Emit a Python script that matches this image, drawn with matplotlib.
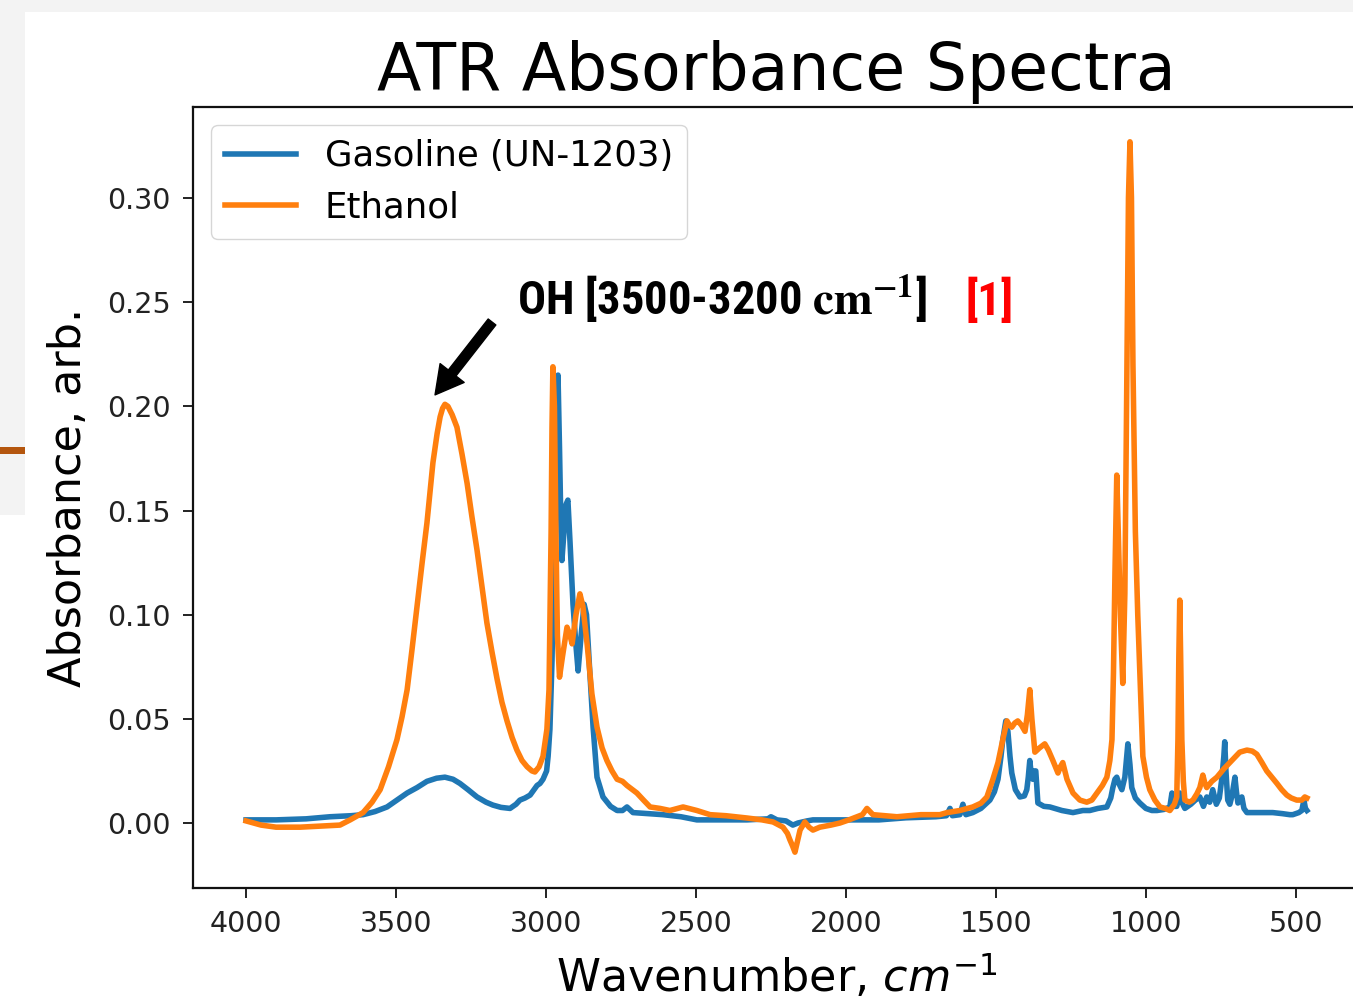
import matplotlib
matplotlib.use("Agg")
import matplotlib.patches as mpatches
import matplotlib.pyplot as plt

# ATR absorbance readings, wavenumber in cm^-1, absorbance in arb. units
ETHANOL_WN = [
    4000, 3950, 3900, 3820, 3750, 3687, 3653, 3610, 3580, 3553, 3525, 3497,
    3480, 3463, 3447, 3430, 3413, 3397, 3377, 3363, 3353, 3345, 3337, 3327,
    3313, 3297, 3280, 3263, 3247, 3230, 3213, 3197, 3180, 3163, 3147, 3130,
    3113, 3097, 3080, 3063, 3047, 3037, 3023, 3010, 2997, 2990, 2983, 2980,
    2977, 2972, 2967, 2962, 2955, 2945, 2930, 2920, 2913, 2900, 2887, 2877,
    2863, 2847, 2830, 2813, 2797, 2780, 2763, 2745, 2730, 2697, 2675, 2653,
    2620, 2587, 2543, 2497, 2453, 2400, 2330, 2280, 2243, 2210, 2195, 2187,
    2178, 2170, 2162, 2153, 2137, 2123, 2110, 2087, 2050, 2020, 1990, 1963,
    1945, 1930, 1910, 1870, 1830, 1750, 1687, 1663, 1620, 1577, 1550, 1530,
    1510, 1493, 1477, 1463, 1455, 1447, 1437, 1427, 1415, 1403, 1395, 1387,
    1380, 1370, 1355, 1337, 1325, 1310, 1293, 1285, 1277, 1270, 1263, 1243,
    1220, 1197, 1180, 1163, 1145, 1130, 1120, 1113, 1108, 1103, 1097, 1092,
    1085, 1077, 1070, 1063, 1058, 1053, 1048, 1043, 1035, 1027, 1020, 1010,
    998, 987, 970, 953, 935, 920, 905, 897, 893, 890, 887, 884,
    880, 875, 870, 855, 843, 830, 820, 810, 803, 797, 780, 763,
    740, 720, 700, 687, 663, 645, 630, 613, 597, 580, 563, 547,
    530, 515, 497, 480, 470, 463,
]
ETHANOL_ABS = [
    0.001, -0.001, -0.002, -0.002, -0.0015, -0.001, 0.0015, 0.005, 0.010, 0.016, 0.027, 0.040,
    0.051, 0.064, 0.083, 0.104, 0.125, 0.144, 0.173, 0.187, 0.195, 0.199, 0.201, 0.200,
    0.196, 0.190, 0.177, 0.163, 0.147, 0.131, 0.113, 0.096, 0.082, 0.069, 0.058, 0.049,
    0.041, 0.035, 0.030, 0.027, 0.025, 0.0245, 0.027, 0.032, 0.045, 0.064, 0.140, 0.190,
    0.219, 0.200, 0.140, 0.090, 0.070, 0.080, 0.094, 0.090, 0.086, 0.100, 0.110, 0.104,
    0.086, 0.062, 0.046, 0.036, 0.030, 0.025, 0.021, 0.020, 0.018, 0.0144, 0.011, 0.0077,
    0.007, 0.006, 0.0077, 0.006, 0.004, 0.0035, 0.0024, 0.0015, 0.0005, -0.002, -0.005, -0.008,
    -0.011, -0.014, -0.009, -0.0034, 0.0005, -0.002, -0.0034, -0.002, -0.001, 0.000, 0.0015, 0.003,
    0.004, 0.007, 0.004, 0.0035, 0.003, 0.004, 0.004, 0.005, 0.006, 0.0077, 0.0095, 0.0125,
    0.021, 0.029, 0.040, 0.049, 0.047, 0.046, 0.048, 0.049, 0.047, 0.044, 0.052, 0.064,
    0.050, 0.034, 0.036, 0.038, 0.035, 0.030, 0.024, 0.027, 0.029, 0.025, 0.021, 0.0144,
    0.011, 0.010, 0.011, 0.0144, 0.018, 0.022, 0.030, 0.040, 0.072, 0.120, 0.167, 0.140,
    0.100, 0.067, 0.110, 0.220, 0.300, 0.327, 0.300, 0.220, 0.140, 0.100, 0.072, 0.032,
    0.022, 0.016, 0.011, 0.0077, 0.007, 0.006, 0.009, 0.0125, 0.040, 0.080, 0.107, 0.080,
    0.040, 0.020, 0.011, 0.010, 0.011, 0.014, 0.017, 0.023, 0.019, 0.017, 0.020, 0.022,
    0.026, 0.029, 0.032, 0.034, 0.035, 0.0345, 0.033, 0.029, 0.025, 0.022, 0.019, 0.016,
    0.0134, 0.012, 0.011, 0.011, 0.0125, 0.012,
]

GASOLINE_WN = [
    4000, 3900, 3800, 3720, 3650, 3610, 3570, 3530, 3497, 3463, 3430, 3397,
    3365, 3337, 3310, 3287, 3260, 3230, 3200, 3177, 3150, 3120, 3100, 3087,
    3070, 3053, 3040, 3030, 3020, 3010, 2998, 2993, 2987, 2980, 2975, 2970,
    2965, 2960, 2955, 2950, 2947, 2940, 2933, 2927, 2920, 2910, 2900, 2893,
    2883, 2873, 2865, 2855, 2843, 2830, 2810, 2785, 2763, 2745, 2730, 2710,
    2660, 2610, 2550, 2497, 2420, 2330, 2260, 2250, 2230, 2200, 2177, 2160,
    2130, 2110, 2000, 1890, 1800, 1700, 1665, 1653, 1645, 1620, 1610, 1600,
    1577, 1550, 1520, 1505, 1493, 1483, 1477, 1467, 1460, 1453, 1447, 1435,
    1420, 1405, 1397, 1392, 1387, 1381, 1377, 1372, 1367, 1360, 1340, 1320,
    1280, 1243, 1210, 1187, 1160, 1130, 1117, 1110, 1103, 1097, 1090, 1080,
    1070, 1060, 1053, 1047, 1035, 1020, 1000, 980, 963, 940, 920, 913,
    907, 897, 887, 880, 870, 850, 835, 820, 808, 797, 787, 777,
    765, 755, 747, 740, 737, 733, 727, 720, 713, 703, 698, 693,
    686, 680, 673, 663, 630, 600, 577, 545, 520, 510, 490, 480,
    473, 468, 463,
]
GASOLINE_ABS = [
    0.0015, 0.0015, 0.002, 0.003, 0.0035, 0.004, 0.0055, 0.0077, 0.011, 0.0144, 0.017, 0.020,
    0.0215, 0.022, 0.021, 0.019, 0.016, 0.0125, 0.010, 0.0086, 0.0075, 0.007, 0.009, 0.011,
    0.012, 0.0134, 0.016, 0.018, 0.019, 0.021, 0.025, 0.032, 0.045, 0.078, 0.120, 0.174,
    0.205, 0.215, 0.180, 0.140, 0.126, 0.140, 0.153, 0.155, 0.135, 0.105, 0.085, 0.073,
    0.090, 0.105, 0.100, 0.075, 0.046, 0.022, 0.0125, 0.008, 0.006, 0.006, 0.0077, 0.005,
    0.0045, 0.004, 0.003, 0.0015, 0.0015, 0.0015, 0.002, 0.003, 0.0015, 0.001, -0.001, 0.000,
    0.001, 0.0015, 0.0015, 0.0015, 0.0025, 0.003, 0.0035, 0.007, 0.0035, 0.004, 0.009, 0.004,
    0.005, 0.007, 0.011, 0.015, 0.021, 0.032, 0.040, 0.049, 0.044, 0.032, 0.024, 0.016,
    0.0125, 0.013, 0.016, 0.022, 0.030, 0.022, 0.021, 0.025, 0.025, 0.0096, 0.008, 0.0077,
    0.006, 0.005, 0.006, 0.006, 0.007, 0.0077, 0.012, 0.017, 0.021, 0.022, 0.019, 0.016,
    0.022, 0.038, 0.028, 0.017, 0.012, 0.0096, 0.007, 0.006, 0.006, 0.0065, 0.0077, 0.0144,
    0.008, 0.008, 0.0144, 0.010, 0.007, 0.009, 0.011, 0.0125, 0.008, 0.0125, 0.010, 0.016,
    0.009, 0.012, 0.021, 0.032, 0.039, 0.025, 0.011, 0.009, 0.013, 0.022, 0.015, 0.0096,
    0.011, 0.0125, 0.007, 0.005, 0.005, 0.005, 0.005, 0.0045, 0.004, 0.004, 0.005, 0.006,
    0.011, 0.007, 0.006,
]

W, H = 1353, 1007

fig = plt.figure(figsize=(W / 100, H / 100), dpi=100, facecolor="white")

# slide margin around the pasted plot
SLIDE_GRAY = "#f3f3f3"
fig.patches.append(mpatches.Rectangle((0, 1 - 12 / H), 1, 12 / H, transform=fig.transFigure,
                                      facecolor=SLIDE_GRAY, edgecolor="none", zorder=0))
fig.patches.append(mpatches.Rectangle((0, 1 - 515 / H), 25 / W, 515 / H, transform=fig.transFigure,
                                      facecolor=SLIDE_GRAY, edgecolor="none", zorder=0))
fig.patches.append(mpatches.Rectangle((0, 1 - 454 / H), 25 / W, 7 / H, transform=fig.transFigure,
                                      facecolor="#b4560e", edgecolor="none", zorder=1))

ax = fig.add_axes([193 / W, 1 - 888 / H, 1167 / W, 781 / H])
ax.plot(GASOLINE_WN, GASOLINE_ABS, color="#1f77b4", lw=4, label="Gasoline (UN-1203)")
ax.plot(ETHANOL_WN, ETHANOL_ABS, color="#ff7f0e", lw=4, label="Ethanol")

ax.set_xlim(4177, 286)
ax.set_ylim(-0.0312, 0.3437)
ax.set_xticks([4000, 3500, 3000, 2500, 2000, 1500, 1000, 500])
ax.set_yticks([0.00, 0.05, 0.10, 0.15, 0.20, 0.25, 0.30])
ax.tick_params(labelsize=20.5, length=7, width=1.4, pad=9, colors="#222222", labelcolor="#222222")
for sp in ax.spines.values():
    sp.set_linewidth(1.6)
    sp.set_color("#111111")

ax.set_title("ATR Absorbance Spectra", fontsize=46.7, pad=12)
ax.set_xlabel(r"Wavenumber, $cm^{-1}$", fontsize=32, labelpad=10)
ax.set_ylabel("Absorbance, arb.", fontsize=32, labelpad=12)

ax.legend(loc="upper left", fontsize=25.6)

# OH stretch callout
NARROW_BOLD = ["Liberation Sans Narrow", "Roboto Condensed", "Liberation Sans"]
ax.annotate("", xy=(3370, 0.2055), xytext=(3180, 0.2405),
            arrowprops=dict(facecolor="black", edgecolor="black", width=7,
                            headwidth=22, headlength=20, shrink=0))
ax.text(3097, 0.2439, r"OH [3500-3200 $\mathbf{cm}^{\mathbf{-1}}$]", fontsize=33.5,
        fontweight="bold", family=NARROW_BOLD,
        math_fontfamily="stix", va="baseline", ha="left", color="black")
ax.text(1603, 0.2439, "[1]", fontsize=33.5, fontweight="bold", family=NARROW_BOLD,
        va="baseline", ha="left", color="#ff0000")

fig.savefig("out.png", dpi=100, facecolor=fig.get_facecolor())
